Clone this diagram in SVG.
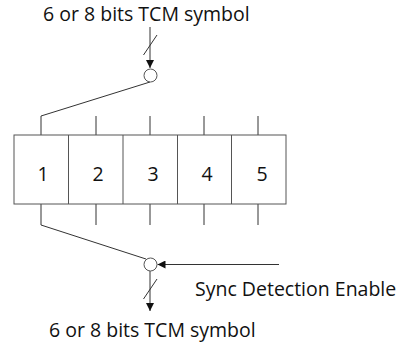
<svg xmlns="http://www.w3.org/2000/svg" width="401" height="347" viewBox="0 0 401 347">
<style>
.t{font-family:"Open Sans","DejaVu Sans",sans-serif;font-size:19.5px;fill:#111}
.n{font-family:"Open Sans","DejaVu Sans",sans-serif;font-size:19.5px;fill:#111;text-anchor:middle}
.l{stroke:#333;stroke-width:1;fill:none}
.b{stroke:#555;stroke-width:1;fill:#fff}
</style>
<defs>
<marker id="ah" markerWidth="8" markerHeight="8" refX="8" refY="4" orient="auto" markerUnits="userSpaceOnUse">
<path d="M0,0 L8,4 L0,8 Z" fill="#111"/>
</marker>
</defs>
<rect width="401" height="347" fill="#fff"/>
<g id="connectors">
<line class="l" x1="150" y1="27" x2="150" y2="68" marker-end="url(#ah)"/>
<line class="l" x1="143.5" y1="55" x2="157" y2="35"/>
<polyline class="l" points="150,82 41,116 41,135"/>
<line class="l" x1="96" y1="116" x2="96" y2="135"/>
<line class="l" x1="150" y1="116" x2="150" y2="135"/>
<line class="l" x1="204" y1="116" x2="204" y2="135"/>
<line class="l" x1="258" y1="116" x2="258" y2="135"/>
<polyline class="l" points="41,204 41,225 146,259"/>
<line class="l" x1="96" y1="204" x2="96" y2="225"/>
<line class="l" x1="150" y1="204" x2="150" y2="225"/>
<line class="l" x1="204" y1="204" x2="204" y2="225"/>
<line class="l" x1="258" y1="204" x2="258" y2="225"/>
<line class="l" x1="279" y1="264.5" x2="157.5" y2="264.5" marker-end="url(#ah)"/>
<line class="l" x1="150" y1="271" x2="150" y2="311" marker-end="url(#ah)"/>
<line class="l" x1="143.5" y1="299" x2="157" y2="279"/>
</g>
<g id="in-label"><text class="t" x="43" y="21">6 or 8 bits TCM symbol</text></g>
<g id="switch-top"><circle class="b" cx="150.5" cy="75.5" r="6.5"/></g>
<g id="register">
<rect class="b" x="14" y="135" width="272" height="69"/>
<line class="b" x1="68.5" y1="135" x2="68.5" y2="204"/>
<line class="b" x1="123" y1="135" x2="123" y2="204"/>
<line class="b" x1="177.5" y1="135" x2="177.5" y2="204"/>
<line class="b" x1="231.5" y1="135" x2="231.5" y2="204"/>
</g>
<g id="cell1"><text class="n" x="43" y="181">1</text></g>
<g id="cell2"><text class="n" x="98" y="181">2</text></g>
<g id="cell3"><text class="n" x="153" y="181">3</text></g>
<g id="cell4"><text class="n" x="207" y="181">4</text></g>
<g id="cell5"><text class="n" x="262" y="181">5</text></g>
<g id="switch-bottom"><circle class="b" cx="150.5" cy="264.5" r="6.5"/></g>
<g id="sync-label"><text class="t" x="195" y="296">Sync Detection Enable</text></g>
<g id="out-label"><text class="t" x="49" y="337">6 or 8 bits TCM symbol</text></g>
</svg>
